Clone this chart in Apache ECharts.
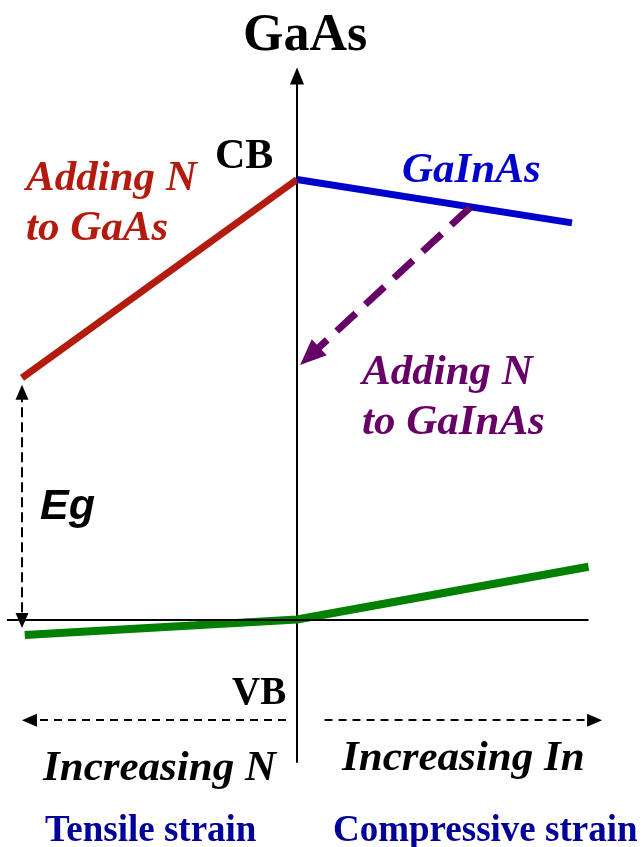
<!DOCTYPE html>
<html>
<head>
<meta charset="utf-8">
<script src="https://cdn.jsdelivr.net/npm/echarts@6/dist/echarts.min.js"></script>
<style>
  html, body { margin: 0; padding: 0; background: #fff; }
  #chart { width: 642px; height: 847px; }
</style>
</head>
<body>
<div id="chart"></div>
<script>
// band edges (eV), GaAs VB = 0, x: -1 = most N (tensile), +1 = most In (compressive)
const gaAsGap = 1.42
const redX = [-1, 0]
const redY = [0.78, gaAsGap]
const blueX = [0, 1]
const blueY = [gaAsGap, 1.28]
const greenX = [-0.99, 0, 1.06]
const greenY = [-0.05, 0, 0.17]
const baseLine = [[-1.055, 0], [1.06, 0]]
// arrow ends are the centres of the arrow heads
const nArrow = [[0.63, 1.33], [0.046, 0.85]]
const egArrow = [[-1, 0.733], [-1, -0.003]]
const leftArrow = [[-0.04, -0.325], [-0.973, -0.325]]
const rightArrow = [[0.1, -0.325], [1.082, -0.325]]

const serif = '"Liberation Serif", "Times New Roman", serif'

const myChart = echarts.init(document.getElementById('chart'))

// y is the text baseline; zrender draws from the top of the line box
const txt = (text, x, y, size, style, fill, family) => ({
  type: 'text',
  silent: true,
  style: {
    text,
    x,
    y: y - size * 0.72,
    font: style + ' ' + size + 'px ' + (family || serif),
    fill,
    verticalAlign: 'top'
  }
})

const dashed = { color: '#000', width: 2, type: [8, 6] }

const option = {
  animation: false,
  backgroundColor: '#fff',
  grid: { left: 5.5, right: 37, top: 76, bottom: 85 },
  xAxis: {
    type: 'value',
    min: -1.06,
    max: 1.12,
    axisLine: { show: false },
    axisTick: { show: false },
    axisLabel: { show: false },
    splitLine: { show: false }
  },
  yAxis: {
    type: 'value',
    min: -0.46,
    max: 1.754,
    axisLine: {
      show: true,
      onZero: true,
      symbol: ['none', 'triangle'],
      symbolSize: [14, 17],
      lineStyle: { color: '#000', width: 2 }
    },
    axisTick: { show: false },
    axisLabel: { show: false },
    splitLine: { show: false }
  },
  series: [
    {
      type: 'line',
      data: [],
      markLine: {
        silent: true,
        animation: false,
        label: { show: false },
        symbol: 'none',
        data: [
          [
            { coord: baseLine[0], lineStyle: { color: '#000', width: 2, type: 'solid' } },
            { coord: baseLine[1] }
          ]
        ]
      }
    },
    {
      type: 'line',
      data: redX.map((x, i) => [x, redY[i]]),
      symbol: 'none',
      clip: false,
      lineStyle: { color: '#B31B0E', width: 7 }
    },
    {
      type: 'line',
      data: blueX.map((x, i) => [x, blueY[i]]),
      symbol: 'none',
      clip: false,
      lineStyle: { color: '#0000CC', width: 7 }
    },
    {
      type: 'line',
      data: greenX.map((x, i) => [x, greenY[i]]),
      symbol: 'none',
      clip: false,
      lineStyle: { color: '#008000', width: 8 }
    },
    {
      type: 'line',
      data: [],
      markLine: {
        silent: true,
        animation: false,
        label: { show: false },
        data: [
          [
            { coord: nArrow[0], symbol: 'none', lineStyle: { color: '#660066', width: 7, type: [26, 13] } },
            { coord: nArrow[1], symbol: 'triangle', symbolSize: [22, 26] }
          ],
          [
            { coord: egArrow[0], symbol: 'triangle', symbolSize: [13, 15], lineStyle: { color: '#000', width: 2, type: [10, 5] } },
            { coord: egArrow[1], symbol: 'triangle', symbolSize: [13, 15] }
          ],
          [
            { coord: leftArrow[0], symbol: 'none', lineStyle: dashed },
            { coord: leftArrow[1], symbol: 'triangle', symbolSize: [13, 15] }
          ],
          [
            { coord: rightArrow[0], symbol: 'none', lineStyle: dashed },
            { coord: rightArrow[1], symbol: 'triangle', symbolSize: [13, 15] }
          ]
        ]
      }
    }
  ],
  graphic: [
    txt('GaAs', 243, 48, 52, 'bold', '#000'),
    txt('CB', 215, 166, 42, 'bold', '#000'),
    txt('Adding N', 26, 188, 43, 'italic bold', '#B31B0E'),
    txt('to GaAs', 26, 238, 43, 'italic bold', '#B31B0E'),
    txt('GaInAs', 402, 180, 43, 'italic bold', '#0000CC'),
    txt('Adding N', 362, 382, 43, 'italic bold', '#660066'),
    txt('to GaInAs', 362, 432, 43, 'italic bold', '#660066'),
    txt('Eg', 40, 517, 43, 'italic bold', '#000', '"Liberation Sans", Arial, sans-serif'),
    txt('VB', 232, 703, 39, 'bold', '#000'),
    txt('Increasing N', 43, 778, 43, 'italic bold', '#000'),
    txt('Increasing In', 342, 768, 43, 'italic bold', '#000'),
    txt('Tensile strain', 45, 840, 37, 'bold', '#000099'),
    txt('Compressive strain', 333, 840, 37, 'bold', '#000099')
  ]
}

myChart.setOption(option)

window.addEventListener('resize', function () {
  myChart.resize()
})
</script>
</body>
</html>
